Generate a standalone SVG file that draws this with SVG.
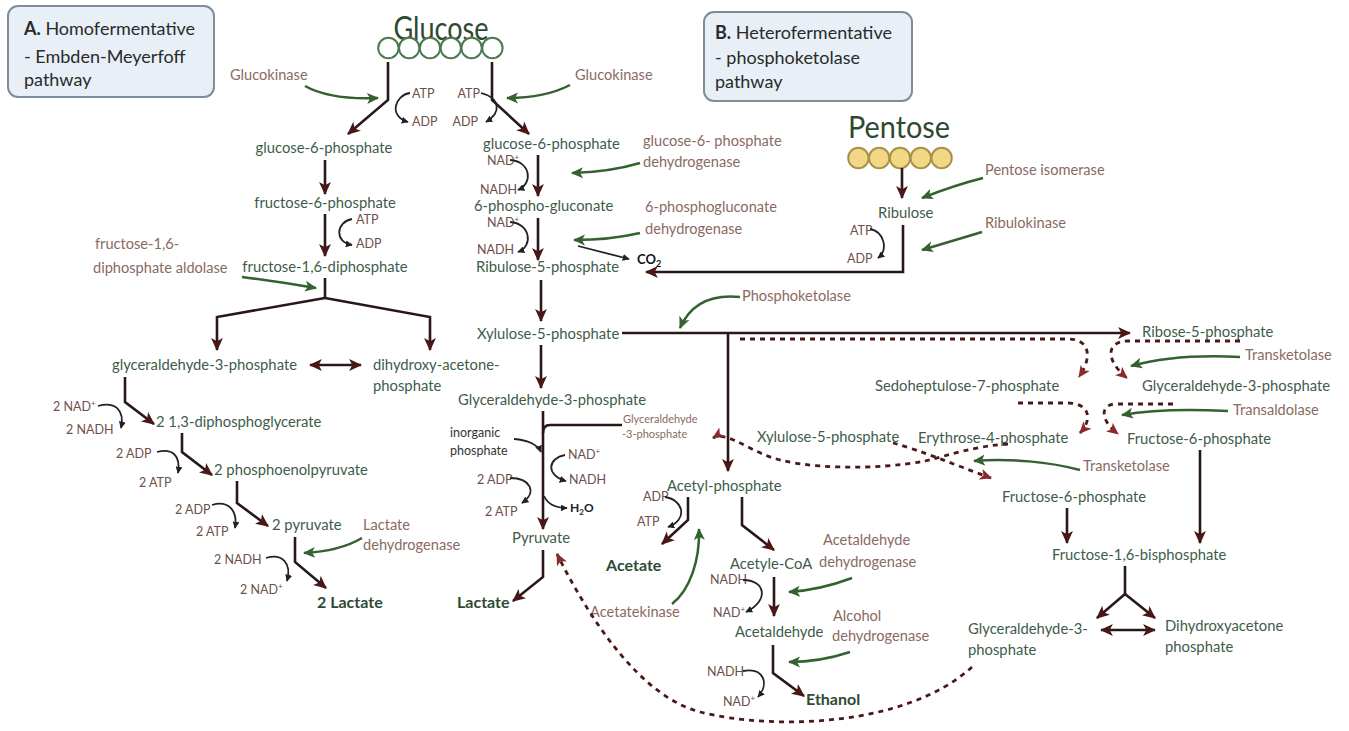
<svg xmlns="http://www.w3.org/2000/svg" width="1349" height="731" viewBox="0 0 1349 731">
<style>
text{font-family:Lato,"Open Sans","Liberation Sans",sans-serif}
.m{font-size:14.8px;fill:#3e5c4a}
.e{font-size:14.6px;fill:#8a6a62}
.c{font-size:12.5px;fill:#6e4f4a}
.k{font-size:12.5px;fill:#333}
.p{font-size:16px;font-weight:bold;fill:#2e4a35}
.t{font-size:18px;fill:#2a2a2a}
.ar{stroke:#2a1818;stroke-width:2.6;fill:none;marker-end:url(#ah)}
.ln{stroke:#2a1818;stroke-width:2.6;fill:none}
.cf{stroke:#222;stroke-width:1.8;fill:none;marker-end:url(#sh)}
.gr{stroke:#35602f;stroke-width:2.5;fill:none;marker-end:url(#gh)}
.ds{stroke:#4a1818;stroke-width:2.8;fill:none;stroke-dasharray:5 5;marker-end:url(#dh)}
.box{fill:#e8eff7;stroke:#7f8c99;stroke-width:2}
.gc{fill:#fff;stroke:#4a7a50;stroke-width:2}
.pc{fill:#f2d886;stroke:#a8924a;stroke-width:2}
</style>
<defs>
<marker id="ah" viewBox="0 0 12 12" refX="11" refY="6" markerWidth="13" markerHeight="13" orient="auto-start-reverse" markerUnits="userSpaceOnUse"><path d="M0,0.5 L12,6 L0,11.5 L3,6 z" fill="#4a1616"/></marker>
<marker id="sh" viewBox="0 0 10 10" refX="9" refY="5" markerWidth="7" markerHeight="7" orient="auto" markerUnits="userSpaceOnUse"><path d="M0,0 L10,5 L0,10 z" fill="#222"/></marker>
<marker id="gh" viewBox="0 0 12 12" refX="11" refY="6" markerWidth="12" markerHeight="12" orient="auto" markerUnits="userSpaceOnUse"><path d="M0,0.5 L12,6 L0,11.5 L3,6 z" fill="#35602f"/></marker>
<marker id="dh" viewBox="0 0 12 12" refX="11" refY="6" markerWidth="12" markerHeight="12" orient="auto" markerUnits="userSpaceOnUse"><path d="M0,0.5 L12,6 L0,11.5 L3,6 z" fill="#8a2a2a"/></marker>
</defs>
<rect width="1349" height="731" fill="#fff"/>

<g id="titleA"><rect class="box" x="8" y="6" width="206" height="91" rx="10"/>
<text class="t" x="24" y="35"><tspan font-weight="bold">A.</tspan> Homofermentative</text>
<text class="t" x="24" y="63">- Embden-Meyerfoff</text>
<text class="t" x="24" y="86">pathway</text></g>
<g id="titleB"><rect class="box" x="704" y="12" width="208" height="89" rx="10"/>
<text class="t" x="715" y="39"><tspan font-weight="bold">B.</tspan> Heterofermentative</text>
<text class="t" x="715" y="64">- phosphoketolase</text>
<text class="t" x="715" y="88">pathway</text></g>

<g id="glucose"><text x="441" y="40" text-anchor="middle" font-size="32" fill="#2d4a30" textLength="95" lengthAdjust="spacingAndGlyphs">Glucose</text>
<circle class="gc" cx="388.4" cy="48" r="10.2"/><circle class="gc" cx="409.2" cy="48" r="10.2"/><circle class="gc" cx="430" cy="48" r="10.2"/><circle class="gc" cx="450.8" cy="48" r="10.2"/><circle class="gc" cx="471.6" cy="48" r="10.2"/><circle class="gc" cx="492.4" cy="48" r="10.2"/></g>
<g id="pentose"><text x="899" y="138" text-anchor="middle" font-size="31" fill="#2d4a30" textLength="102" lengthAdjust="spacingAndGlyphs">Pentose</text>
<circle class="pc" cx="858.4" cy="158" r="10.2"/><circle class="pc" cx="879.2" cy="158" r="10.2"/><circle class="pc" cx="900" cy="158" r="10.2"/><circle class="pc" cx="920.8" cy="158" r="10.2"/><circle class="pc" cx="941.6" cy="158" r="10.2"/></g>

<!-- Pathway A nodes -->
<g id="a-g6p"><text class="m" x="324" y="153" text-anchor="middle">glucose-6-phosphate</text></g>
<g id="a-f6p"><text class="m" x="325" y="208" text-anchor="middle">fructose-6-phosphate</text></g>
<g id="a-f16dp"><text class="m" x="325" y="272" text-anchor="middle">fructose-1,6-diphosphate</text></g>
<g id="a-g3p"><text class="m" x="112" y="370">glyceraldehyde-3-phosphate</text></g>
<g id="a-dhap"><text class="m" x="373" y="370">dihydroxy-acetone-</text><text class="m" x="373" y="391">phosphate</text></g>
<g id="a-dpg"><text class="m" x="156" y="427">2 1,3-diphosphoglycerate</text></g>
<g id="a-pep"><text class="m" x="214" y="475">2 phosphoenolpyruvate</text></g>
<g id="a-pyr"><text class="m" x="272" y="530">2 pyruvate</text></g>
<g id="a-lac"><text class="p" x="317" y="608" fill="#263a2c">2 Lactate</text></g>
<g id="a-enz">
<text class="e" x="230" y="80">Glucokinase</text>
<text class="e" x="95" y="249">fructose-1,6-</text><text class="e" x="93" y="273">diphosphate aldolase</text>
<text class="e" x="363" y="530">Lactate</text><text class="e" x="363" y="550">dehydrogenase</text>
</g>
<g id="a-cof">
<text class="c" x="412" y="98">ATP</text><text class="c" x="412" y="126">ADP</text>
<text class="c" x="356" y="224">ATP</text><text class="c" x="356" y="248">ADP</text>
<text class="c" x="53" y="411">2 NAD<tspan font-size="8" dy="-5">+</tspan></text><text class="c" x="66" y="434">2 NADH</text>
<text class="c" x="116" y="458">2 ADP</text><text class="c" x="139" y="487">2 ATP</text>
<text class="c" x="175" y="514">2 ADP</text><text class="c" x="196" y="536">2 ATP</text>
<text class="c" x="214" y="564">2 NADH</text><text class="c" x="240" y="594">2 NAD<tspan font-size="8" dy="-5">+</tspan></text>
</g>

<!-- Pathway B nodes -->
<g id="b-g6p"><text class="m" x="483" y="149">glucose-6-phosphate</text></g>
<g id="b-6pg"><text class="m" x="474" y="211">6-phospho-gluconate</text></g>
<g id="b-ru5p"><text class="m" x="476" y="272">Ribulose-5-phosphate</text></g>
<g id="b-co2"><text x="637" y="264" font-size="13" font-weight="bold" fill="#111">CO<tspan font-size="9" dy="3">2</tspan></text></g>
<g id="b-xu5p"><text class="m" x="477" y="339">Xylulose-5-phosphate</text></g>
<g id="b-g3p"><text class="m" x="458" y="405">Glyceraldehyde-3-phosphate</text></g>
<g id="b-pi"><text class="k" x="450" y="437">inorganic</text><text class="k" x="450" y="455">phosphate</text></g>
<g id="b-pyr"><text class="m" x="512" y="543">Pyruvate</text></g>
<g id="b-lac"><text class="p" x="457" y="608">Lactate</text></g>
<g id="b-g3p-small"><text x="623" y="423" font-size="11" fill="#8a6a62">Glyceraldehyde</text><text x="622" y="438" font-size="11" fill="#8a6a62">-3-phosphate</text></g>
<g id="b-acp"><text class="m" x="667" y="491">Acetyl-phosphate</text></g>
<g id="b-ace"><text class="p" x="606" y="571" fill="#36603c">Acetate</text></g>
<g id="b-acoa"><text class="m" x="730" y="569">Acetyle-CoA</text></g>
<g id="b-ald"><text class="m" x="735" y="637">Acetaldehyde</text></g>
<g id="b-eth"><text class="p" x="806" y="705" fill="#36603c">Ethanol</text></g>
<g id="b-rib"><text class="m" x="878" y="218">Ribulose</text></g>
<g id="b-r5p"><text class="m" x="1142" y="337">Ribose-5-phosphate</text></g>
<g id="b-s7p"><text class="m" x="875" y="391">Sedoheptulose-7-phosphate</text></g>
<g id="b-g3p2"><text class="m" x="1142" y="391">Glyceraldehyde-3-phosphate</text></g>
<g id="b-xu5p2"><text class="m" x="757" y="442">Xylulose-5-phosphate</text></g>
<g id="b-e4p"><text class="m" x="918" y="443">Erythrose-4-phosphate</text></g>
<g id="b-f6p1"><text class="m" x="1127" y="444">Fructose-6-phosphate</text></g>
<g id="b-f6p2"><text class="m" x="1002" y="502">Fructose-6-phosphate</text></g>
<g id="b-f16bp"><text class="m" x="1052" y="560">Fructose-1,6-bisphosphate</text></g>
<g id="b-g3p3"><text class="m" x="968" y="634">Glyceraldehyde-3-</text><text class="m" x="968" y="655">phosphate</text></g>
<g id="b-dhap"><text class="m" x="1165" y="631">Dihydroxyacetone</text><text class="m" x="1165" y="652">phosphate</text></g>
<g id="b-enz">
<text class="e" x="575" y="80">Glucokinase</text>
<text class="e" x="643" y="146">glucose-6- phosphate</text><text class="e" x="643" y="167">dehydrogenase</text>
<text class="e" x="645" y="212">6-phosphogluconate</text><text class="e" x="645" y="234">dehydrogenase</text>
<text class="e" x="985" y="175">Pentose isomerase</text>
<text class="e" x="985" y="228">Ribulokinase</text>
<text class="e" x="742" y="301">Phosphoketolase</text>
<text class="e" x="1245" y="360">Transketolase</text>
<text class="e" x="1233" y="415">Transaldolase</text>
<text class="e" x="1083" y="471">Transketolase</text>
<text class="e" x="590" y="617">Acetatekinase</text>
<text class="e" x="823" y="545">Acetaldehyde</text><text class="e" x="819" y="567">dehydrogenase</text>
<text class="e" x="833" y="621">Alcohol</text><text class="e" x="832" y="641">dehydrogenase</text>
</g>
<g id="b-cof">
<text class="c" x="480" y="98" text-anchor="end">ATP</text><text class="c" x="478" y="126" text-anchor="end">ADP</text>
<text class="c" x="487" y="165">NAD<tspan font-size="8" dy="-5">+</tspan></text><text class="c" x="480" y="194">NADH</text>
<text class="c" x="487" y="227">NAD<tspan font-size="8" dy="-5">+</tspan></text><text class="c" x="477" y="254">NADH</text>
<text class="c" x="850" y="235">ATP</text><text class="c" x="847" y="263">ADP</text>
<text class="c" x="568" y="459">NAD<tspan font-size="8" dy="-5">+</tspan></text><text class="c" x="569" y="484">NADH</text>
<text class="c" x="477" y="484">2 ADP</text><text class="c" x="485" y="516">2 ATP</text>
<text x="570" y="512" font-size="12" font-weight="bold" fill="#222">H<tspan font-size="8" dy="3">2</tspan><tspan dy="-3">O</tspan></text>
<text class="c" x="643" y="501">ADP</text><text class="c" x="637" y="526">ATP</text>
<text class="c" x="710" y="584">NADH</text><text class="c" x="713" y="617">NAD<tspan font-size="8" dy="-5">+</tspan></text>
<text class="c" x="707" y="676">NADH</text><text class="c" x="723" y="706">NAD<tspan font-size="8" dy="-5">+</tspan></text>
</g>

<g id="connectors">
<!-- A main -->
<path class="ar" d="M388,62 L388,100 L348,134"/>
<path class="ar" d="M492,62 L492,100 L529,134"/>
<path class="ar" d="M325,160 L325,194"/>
<path class="ar" d="M325,214 L325,256"/>
<path class="ln" d="M325,278 L325,298"/>
<path class="ar" d="M325,298 L217,317 L217,350"/>
<path class="ar" d="M325,298 L430,317 L430,350"/>
<path class="ar" d="M310,365 L361,365" marker-start="url(#ah)"/>
<path class="ar" d="M125,377 L125,402 L154,424"/>
<path class="ar" d="M182,433 L182,452 L212,475"/>
<path class="ar" d="M237,481 L237,503 L268,526"/>
<path class="ar" d="M295,537 L295,562 L326,588"/>
<!-- A cofactors -->
<path class="cf" d="M410,93 C395,95 388,116 408,122"/>
<path class="cf" d="M481,93 C500,98 502,112 486,122"/>
<path class="cf" d="M352,219 C336,222 334,242 352,245"/>
<path class="cf" d="M98,406 C115,401 125,410 121,428"/>
<path class="cf" d="M157,452 C172,448 181,455 178,473"/>
<path class="cf" d="M212,505 C228,500 238,510 235,528"/>
<path class="cf" d="M266,558 C282,553 292,563 287,581"/>
<!-- A enzymes -->
<path class="gr" d="M305,86 Q330,100 378,98"/>
<path class="gr" d="M242,277 Q280,282 316,288"/>
<path class="gr" d="M362,538 C345,548 325,552 304,553"/>
<!-- B main -->
<path class="ar" d="M538,155 L538,196"/>
<path class="ar" d="M538,218 L538,260"/>
<path class="ar" d="M541,280 L541,321"/>
<path class="ar" d="M541,345 L541,388"/>
<path class="ar" d="M543,411 L543,529"/>
<path class="ln" d="M622,425 L550,425 Q543,425 543,433"/>
<path class="ar" d="M543,550 L543,577 L513,601"/>
<path class="cf" d="M578,246 L629,259"/>
<path class="ar" d="M902,168 L902,198"/>
<path class="ar" d="M903,225 L903,272 L646,272"/>
<path class="ar" d="M622,333 L1130,333"/>
<path class="ar" d="M728,333 L728,471"/>
<path class="ar" d="M688,497 L688,520 L662,544"/>
<path class="ar" d="M742,497 L742,525 L774,550"/>
<path class="ar" d="M774,577 L774,616"/>
<path class="ar" d="M773,645 L773,673 L804,696"/>
<path class="ar" d="M1067,508 L1067,543"/>
<path class="ar" d="M1200,450 L1200,543"/>
<path class="ln" d="M1125,566 L1125,594"/>
<path class="ar" d="M1125,594 L1097,618"/>
<path class="ar" d="M1125,594 L1155,618"/>
<path class="ar" d="M1101,630 L1155,630" marker-start="url(#ah)"/>
<!-- B cofactors -->
<path class="cf" d="M510,160 C530,161 534,183 518,190"/>
<path class="cf" d="M510,222 C530,223 534,246 518,252"/>
<path class="cf" d="M870,229 C885,232 888,250 878,258"/>
<path class="cf" d="M514,439 C528,440 538,445 541,452" marker-end="none"/>
<path class="cf" d="M565,455 C548,458 545,475 566,481"/>
<path class="cf" d="M510,478 C530,478 538,492 522,503"/>
<path class="cf" d="M544,496 C548,505 556,508 567,508" marker-end="none"/>
<path class="cf" d="M665,497 C684,500 688,520 668,527"/>
<path class="cf" d="M743,580 C765,580 770,600 746,612"/>
<path class="cf" d="M743,671 C763,667 770,683 758,697"/>
<!-- B enzymes -->
<path class="gr" d="M570,85 Q545,98 507,98"/>
<path class="gr" d="M640,163 Q610,172 572,173"/>
<path class="gr" d="M640,233 Q610,240 574,240"/>
<path class="gr" d="M983,178 Q955,185 922,198"/>
<path class="gr" d="M982,232 Q955,240 922,250"/>
<path class="gr" d="M740,297 C710,294 690,305 680,328"/>
<path class="gr" d="M1240,357 C1200,355 1160,358 1131,366"/>
<path class="gr" d="M1228,411 C1190,409 1150,410 1122,415"/>
<path class="gr" d="M1080,470 C1050,462 1010,458 974,461"/>
<path class="gr" d="M672,604 C690,590 700,560 699,529"/>
<path class="gr" d="M852,578 Q820,590 789,592"/>
<path class="gr" d="M850,652 Q820,662 789,662"/>
<!-- dashed -->
<path class="ds" d="M740,339 L1068,339 C1088,339 1094,355 1079,377"/>
<path class="ds" d="M1240,341 L1128,341 C1108,341 1103,358 1127,378"/>
<path class="ds" d="M1018,403 L1068,403 C1088,403 1094,418 1080,433"/>
<path class="ds" d="M1173,404 L1115,404 C1100,405 1100,420 1118,434"/>
<path class="ds" d="M1008,444 C975,446 950,455 925,461 C880,470 800,470 765,455 C745,447 724,431 713,438"/>
<path class="ds" d="M893,443 C920,450 955,465 991,478"/>
<path class="ds" d="M972,667 C905,728 770,730 700,712 C640,696 590,620 557,554"/>
</g>
</svg>
